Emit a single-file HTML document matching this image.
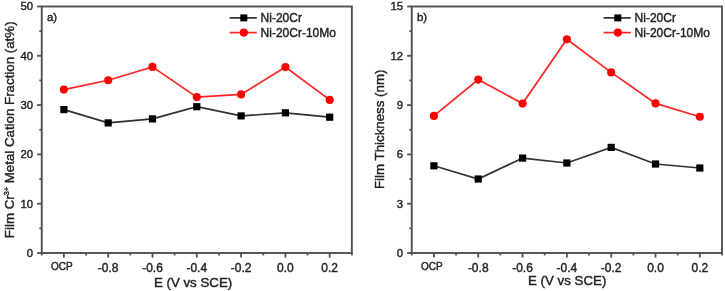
<!DOCTYPE html><html><head><meta charset="utf-8"><style>html,body{margin:0;padding:0;background:#fff;}svg{display:block;}text{filter:grayscale(1);font-family:"Liberation Sans",sans-serif;fill:#222;stroke:#222;stroke-width:0.4px;}</style></head><body>
<svg width="725" height="291" viewBox="0 0 725 291">
<rect x="41.74" y="6.5" width="310.11" height="246.5" fill="none" stroke="#505050" stroke-width="1.9"/>
<line x1="37.14" y1="253.00" x2="41.74" y2="253.00" stroke="#505050" stroke-width="1.8"/>
<text x="33.0" y="256.90" font-size="11.3" text-anchor="end">0</text>
<line x1="39.34" y1="228.35" x2="41.74" y2="228.35" stroke="#505050" stroke-width="1.8"/>
<line x1="37.14" y1="203.70" x2="41.74" y2="203.70" stroke="#505050" stroke-width="1.8"/>
<text x="33.0" y="207.60" font-size="11.3" text-anchor="end">10</text>
<line x1="39.34" y1="179.05" x2="41.74" y2="179.05" stroke="#505050" stroke-width="1.8"/>
<line x1="37.14" y1="154.40" x2="41.74" y2="154.40" stroke="#505050" stroke-width="1.8"/>
<text x="33.0" y="158.30" font-size="11.3" text-anchor="end">20</text>
<line x1="39.34" y1="129.75" x2="41.74" y2="129.75" stroke="#505050" stroke-width="1.8"/>
<line x1="37.14" y1="105.10" x2="41.74" y2="105.10" stroke="#505050" stroke-width="1.8"/>
<text x="33.0" y="109.00" font-size="11.3" text-anchor="end">30</text>
<line x1="39.34" y1="80.45" x2="41.74" y2="80.45" stroke="#505050" stroke-width="1.8"/>
<line x1="37.14" y1="55.80" x2="41.74" y2="55.80" stroke="#505050" stroke-width="1.8"/>
<text x="33.0" y="59.70" font-size="11.3" text-anchor="end">40</text>
<line x1="39.34" y1="31.15" x2="41.74" y2="31.15" stroke="#505050" stroke-width="1.8"/>
<line x1="37.14" y1="6.50" x2="41.74" y2="6.50" stroke="#505050" stroke-width="1.8"/>
<text x="33.0" y="10.40" font-size="11.3" text-anchor="end">50</text>
<line x1="63.89" y1="253.0" x2="63.89" y2="257.6" stroke="#505050" stroke-width="1.8"/>
<line x1="41.74" y1="253.0" x2="41.74" y2="255.4" stroke="#505050" stroke-width="1.8"/>
<line x1="86.04" y1="253.0" x2="86.04" y2="255.4" stroke="#505050" stroke-width="1.8"/>
<text x="61.89" y="269.8" font-size="10" text-anchor="middle">OCP</text>
<line x1="108.19" y1="253.0" x2="108.19" y2="257.6" stroke="#505050" stroke-width="1.8"/>
<line x1="130.34" y1="253.0" x2="130.34" y2="255.4" stroke="#505050" stroke-width="1.8"/>
<text x="108.19" y="271.5" font-size="12" text-anchor="middle">-0.8</text>
<line x1="152.49" y1="253.0" x2="152.49" y2="257.6" stroke="#505050" stroke-width="1.8"/>
<line x1="174.64" y1="253.0" x2="174.64" y2="255.4" stroke="#505050" stroke-width="1.8"/>
<text x="152.49" y="271.5" font-size="12" text-anchor="middle">-0.6</text>
<line x1="196.80" y1="253.0" x2="196.80" y2="257.6" stroke="#505050" stroke-width="1.8"/>
<line x1="218.95" y1="253.0" x2="218.95" y2="255.4" stroke="#505050" stroke-width="1.8"/>
<text x="196.80" y="271.5" font-size="12" text-anchor="middle">-0.4</text>
<line x1="241.10" y1="253.0" x2="241.10" y2="257.6" stroke="#505050" stroke-width="1.8"/>
<line x1="263.25" y1="253.0" x2="263.25" y2="255.4" stroke="#505050" stroke-width="1.8"/>
<text x="241.10" y="271.5" font-size="12" text-anchor="middle">-0.2</text>
<line x1="285.40" y1="253.0" x2="285.40" y2="257.6" stroke="#505050" stroke-width="1.8"/>
<line x1="307.55" y1="253.0" x2="307.55" y2="255.4" stroke="#505050" stroke-width="1.8"/>
<text x="285.40" y="271.5" font-size="12" text-anchor="middle">0.0</text>
<line x1="329.70" y1="253.0" x2="329.70" y2="257.6" stroke="#505050" stroke-width="1.8"/>
<line x1="351.85" y1="253.0" x2="351.85" y2="255.4" stroke="#505050" stroke-width="1.8"/>
<text x="329.70" y="271.5" font-size="12" text-anchor="middle">0.2</text>
<polyline points="63.89,89.60 108.19,80.30 152.49,66.90 196.80,97.10 241.10,94.40 285.40,67.10 329.70,99.90" fill="none" stroke="#ff2424" stroke-width="1.7"/>
<polyline points="63.89,109.60 108.19,122.90 152.49,118.90 196.80,106.70 241.10,115.90 285.40,112.80 329.70,117.20" fill="none" stroke="#313131" stroke-width="1.7"/>
<circle cx="63.89" cy="89.60" r="4.05" fill="#ff0000"/>
<circle cx="108.19" cy="80.30" r="4.05" fill="#ff0000"/>
<circle cx="152.49" cy="66.90" r="4.05" fill="#ff0000"/>
<circle cx="196.80" cy="97.10" r="4.05" fill="#ff0000"/>
<circle cx="241.10" cy="94.40" r="4.05" fill="#ff0000"/>
<circle cx="285.40" cy="67.10" r="4.05" fill="#ff0000"/>
<circle cx="329.70" cy="99.90" r="4.05" fill="#ff0000"/>
<rect x="60.29" y="106.00" width="7.2" height="7.2" fill="#000"/>
<rect x="104.59" y="119.30" width="7.2" height="7.2" fill="#000"/>
<rect x="148.89" y="115.30" width="7.2" height="7.2" fill="#000"/>
<rect x="193.20" y="103.10" width="7.2" height="7.2" fill="#000"/>
<rect x="237.50" y="112.30" width="7.2" height="7.2" fill="#000"/>
<rect x="281.80" y="109.20" width="7.2" height="7.2" fill="#000"/>
<rect x="326.10" y="113.60" width="7.2" height="7.2" fill="#000"/>
<text x="46.94" y="20.8" font-size="11.5">a)</text>
<line x1="229.6" y1="17.9" x2="256.8" y2="17.9" stroke="#313131" stroke-width="1.7"/>
<rect x="240.30" y="14.40" width="7" height="7" fill="#000"/>
<text x="260.6" y="21.8" font-size="12">Ni-20Cr</text>
<line x1="229.6" y1="32.6" x2="256.8" y2="32.6" stroke="#ff2424" stroke-width="1.7"/>
<circle cx="243.80" cy="32.6" r="4.1" fill="#ff0000"/>
<text x="260.6" y="37.0" font-size="12">Ni-20Cr-10Mo</text>
<text x="193.1" y="286.5" font-size="13.3" text-anchor="middle">E (V vs SCE)</text>
<rect x="411.74" y="6.5" width="310.26" height="246.5" fill="none" stroke="#505050" stroke-width="1.9"/>
<line x1="407.14" y1="253.00" x2="411.74" y2="253.00" stroke="#505050" stroke-width="1.8"/>
<text x="403.0" y="256.90" font-size="11.3" text-anchor="end">0</text>
<line x1="409.34" y1="228.35" x2="411.74" y2="228.35" stroke="#505050" stroke-width="1.8"/>
<line x1="407.14" y1="203.70" x2="411.74" y2="203.70" stroke="#505050" stroke-width="1.8"/>
<text x="403.0" y="207.60" font-size="11.3" text-anchor="end">3</text>
<line x1="409.34" y1="179.05" x2="411.74" y2="179.05" stroke="#505050" stroke-width="1.8"/>
<line x1="407.14" y1="154.40" x2="411.74" y2="154.40" stroke="#505050" stroke-width="1.8"/>
<text x="403.0" y="158.30" font-size="11.3" text-anchor="end">6</text>
<line x1="409.34" y1="129.75" x2="411.74" y2="129.75" stroke="#505050" stroke-width="1.8"/>
<line x1="407.14" y1="105.10" x2="411.74" y2="105.10" stroke="#505050" stroke-width="1.8"/>
<text x="403.0" y="109.00" font-size="11.3" text-anchor="end">9</text>
<line x1="409.34" y1="80.45" x2="411.74" y2="80.45" stroke="#505050" stroke-width="1.8"/>
<line x1="407.14" y1="55.80" x2="411.74" y2="55.80" stroke="#505050" stroke-width="1.8"/>
<text x="403.0" y="59.70" font-size="11.3" text-anchor="end">12</text>
<line x1="409.34" y1="31.15" x2="411.74" y2="31.15" stroke="#505050" stroke-width="1.8"/>
<line x1="407.14" y1="6.50" x2="411.74" y2="6.50" stroke="#505050" stroke-width="1.8"/>
<text x="403.0" y="10.40" font-size="11.3" text-anchor="end">15</text>
<line x1="433.90" y1="253.0" x2="433.90" y2="257.6" stroke="#505050" stroke-width="1.8"/>
<line x1="411.74" y1="253.0" x2="411.74" y2="255.4" stroke="#505050" stroke-width="1.8"/>
<line x1="456.06" y1="253.0" x2="456.06" y2="255.4" stroke="#505050" stroke-width="1.8"/>
<text x="431.90" y="269.8" font-size="10" text-anchor="middle">OCP</text>
<line x1="478.22" y1="253.0" x2="478.22" y2="257.6" stroke="#505050" stroke-width="1.8"/>
<line x1="500.39" y1="253.0" x2="500.39" y2="255.4" stroke="#505050" stroke-width="1.8"/>
<text x="478.22" y="271.5" font-size="12" text-anchor="middle">-0.8</text>
<line x1="522.55" y1="253.0" x2="522.55" y2="257.6" stroke="#505050" stroke-width="1.8"/>
<line x1="544.71" y1="253.0" x2="544.71" y2="255.4" stroke="#505050" stroke-width="1.8"/>
<text x="522.55" y="271.5" font-size="12" text-anchor="middle">-0.6</text>
<line x1="566.87" y1="253.0" x2="566.87" y2="257.6" stroke="#505050" stroke-width="1.8"/>
<line x1="589.03" y1="253.0" x2="589.03" y2="255.4" stroke="#505050" stroke-width="1.8"/>
<text x="566.87" y="271.5" font-size="12" text-anchor="middle">-0.4</text>
<line x1="611.19" y1="253.0" x2="611.19" y2="257.6" stroke="#505050" stroke-width="1.8"/>
<line x1="633.35" y1="253.0" x2="633.35" y2="255.4" stroke="#505050" stroke-width="1.8"/>
<text x="611.19" y="271.5" font-size="12" text-anchor="middle">-0.2</text>
<line x1="655.52" y1="253.0" x2="655.52" y2="257.6" stroke="#505050" stroke-width="1.8"/>
<line x1="677.68" y1="253.0" x2="677.68" y2="255.4" stroke="#505050" stroke-width="1.8"/>
<text x="655.52" y="271.5" font-size="12" text-anchor="middle">0.0</text>
<line x1="699.84" y1="253.0" x2="699.84" y2="257.6" stroke="#505050" stroke-width="1.8"/>
<line x1="722.00" y1="253.0" x2="722.00" y2="255.4" stroke="#505050" stroke-width="1.8"/>
<text x="699.84" y="271.5" font-size="12" text-anchor="middle">0.2</text>
<polyline points="433.90,115.90 478.22,79.60 522.55,103.60 566.87,39.30 611.19,72.40 655.52,103.40 699.84,116.70" fill="none" stroke="#ff2424" stroke-width="1.7"/>
<polyline points="433.90,165.80 478.22,179.00 522.55,158.10 566.87,163.00 611.19,147.40 655.52,164.00 699.84,168.00" fill="none" stroke="#313131" stroke-width="1.7"/>
<circle cx="433.90" cy="115.90" r="4.05" fill="#ff0000"/>
<circle cx="478.22" cy="79.60" r="4.05" fill="#ff0000"/>
<circle cx="522.55" cy="103.60" r="4.05" fill="#ff0000"/>
<circle cx="566.87" cy="39.30" r="4.05" fill="#ff0000"/>
<circle cx="611.19" cy="72.40" r="4.05" fill="#ff0000"/>
<circle cx="655.52" cy="103.40" r="4.05" fill="#ff0000"/>
<circle cx="699.84" cy="116.70" r="4.05" fill="#ff0000"/>
<rect x="430.30" y="162.20" width="7.2" height="7.2" fill="#000"/>
<rect x="474.62" y="175.40" width="7.2" height="7.2" fill="#000"/>
<rect x="518.95" y="154.50" width="7.2" height="7.2" fill="#000"/>
<rect x="563.27" y="159.40" width="7.2" height="7.2" fill="#000"/>
<rect x="607.59" y="143.80" width="7.2" height="7.2" fill="#000"/>
<rect x="651.92" y="160.40" width="7.2" height="7.2" fill="#000"/>
<rect x="696.24" y="164.40" width="7.2" height="7.2" fill="#000"/>
<text x="416.94" y="20.8" font-size="11.5">b)</text>
<line x1="603.6" y1="17.9" x2="630.8000000000001" y2="17.9" stroke="#313131" stroke-width="1.7"/>
<rect x="614.30" y="14.40" width="7" height="7" fill="#000"/>
<text x="634.6" y="21.8" font-size="12">Ni-20Cr</text>
<line x1="603.6" y1="32.6" x2="630.8000000000001" y2="32.6" stroke="#ff2424" stroke-width="1.7"/>
<circle cx="617.80" cy="32.6" r="4.1" fill="#ff0000"/>
<text x="634.6" y="37.0" font-size="12">Ni-20Cr-10Mo</text>
<text x="567.2" y="285.2" font-size="13.3" text-anchor="middle">E (V vs SCE)</text>
<text transform="translate(14.2,129.8) rotate(-90)" font-size="13.3" text-anchor="middle">Film Cr<tspan font-size="7.3" dy="-5.3">3+</tspan><tspan dy="5.3"> Metal Cation Fraction (at%)</tspan></text>
<text transform="translate(383.7,129.3) rotate(-90)" font-size="13.3" text-anchor="middle">Film Thickness (nm)</text>
</svg></body></html>
